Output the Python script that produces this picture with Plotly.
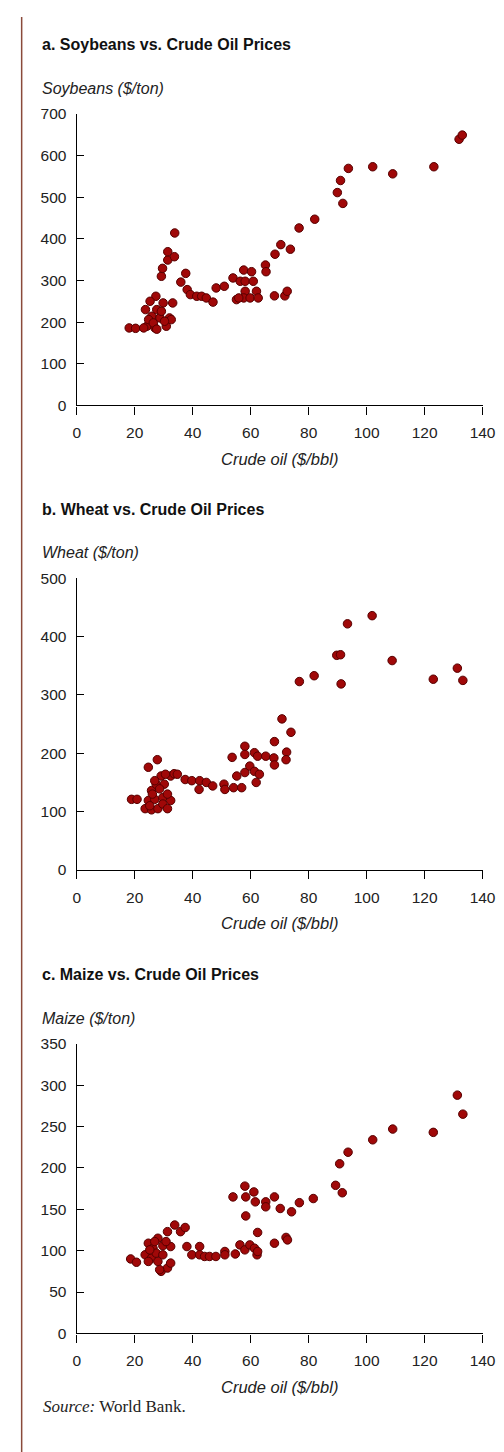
import plotly.graph_objects as go

# ---------------- data ----------------
soy_oil = [18.1, 20.3, 27.3, 25.3, 23.7, 29.8, 33.1, 25.9, 28.7, 32.0, 24.2, 27.0, 30.9, 32.6, 27.6, 29.2,
           24.8, 26.4, 23.1, 30.3, 27.6,
           29.2, 29.6, 31.4, 31.4, 33.7, 33.8,
           35.9, 37.6, 38.1, 39.2, 41.4, 43.1, 44.7, 47.0, 48.1, 50.9, 53.9,
           55.1, 57.6, 60.3, 56.4, 58.1, 60.9, 58.1, 62.0, 57.6, 59.8, 62.6, 55.9,
           65.1, 65.3, 68.2, 68.4, 70.4, 71.8, 72.6, 73.7, 76.7, 82.1,
           89.9, 91.0, 91.8, 93.7, 102.1, 109.0, 123.2, 131.9, 133.0]
soy_price = [186, 185, 262, 250, 230, 246, 246, 214, 210, 210, 190, 186, 190, 206, 230, 226,
             206, 198, 186, 202, 183,
             310, 329, 349, 369, 357, 414,
             296, 317, 278, 266, 262, 262, 258, 248, 282, 286, 306,
             254, 325, 321, 298, 298, 298, 274, 274, 258, 258, 258, 258,
             337, 321, 263, 363, 386, 263, 274, 375, 426, 447,
             511, 540, 485, 569, 573, 556, 573, 639, 649]

wheat_oil = [18.9, 20.8, 24.7, 27.8,
             23.6, 25.8, 28.0, 24.7, 26.9, 29.7, 32.4, 31.3, 25.8, 27.4, 30.2, 32.4, 29.1, 26.9,
             30.6, 33.6, 29.7, 31.3, 25.2, 28.6, 26.1,
             34.7, 37.4, 39.7, 42.4, 42.2, 44.7, 46.9, 50.8, 51.1, 54.1, 56.9, 53.6, 55.2, 58.0,
             59.7, 61.3, 63.0, 61.9, 58.0, 58.0, 61.3, 62.4, 65.2, 68.2, 68.0, 68.2, 70.8, 72.4,
             72.2, 73.9, 76.8, 81.9,
             89.7, 91.0, 91.2, 93.4, 101.9, 108.8, 123.0, 131.3, 133.2]
wheat_price = [121, 121, 176, 189,
               105, 103, 105, 119, 121, 124, 119, 130, 136, 147, 147, 161, 161, 153,
               164, 165, 113, 105, 110, 139, 130,
               164, 155, 153, 153, 138, 150, 144, 147, 138, 141, 141, 193, 161, 167,
               178, 169, 164, 150, 212, 198, 201, 195, 195, 220, 192, 180, 259, 202,
               189, 236, 323, 333,
               368, 369, 319, 422, 436, 359, 327, 346, 325]

maize_oil = [18.6, 20.6,
             24.7, 28.0, 31.3, 33.8, 35.8, 37.4, 29.7, 26.3, 23.6, 25.8, 28.0, 29.1, 31.3, 32.4,
             32.4, 27.4, 29.7, 25.2, 26.9, 30.8, 28.6, 24.7,
             38.0, 42.4, 39.7, 42.4, 44.1, 45.8, 48.0, 51.1, 51.1, 54.7, 56.3, 58.0, 59.7, 61.3,
             62.2, 62.4, 62.4, 58.3, 53.9, 58.0, 58.3, 61.1, 61.6, 65.2, 65.2, 68.2, 70.2, 74.1,
             76.8, 68.2, 72.2, 72.7, 81.6,
             89.3, 91.6, 90.7, 93.6, 102.1, 109.0, 123.0, 131.3, 133.2]
maize_price = [90, 86,
               109, 115, 123, 131, 123, 128, 106, 103, 95, 91, 87, 75, 79, 85,
               105, 97, 95, 101, 111, 111, 77, 87,
               105, 105, 95, 95, 93, 93, 93, 99, 95, 96, 107, 101, 107, 103,
               95, 99, 122, 142, 165, 178, 165, 171, 159, 159, 153, 165, 151, 147,
               158, 109, 116, 113, 163,
               179, 170, 205, 219, 234, 247, 243, 288, 265]

panel_titles = ["a. Soybeans vs. Crude Oil Prices",
                "b. Wheat vs. Crude Oil Prices",
                "c. Maize vs. Crude Oil Prices"]
y_titles = ["Soybeans ($/ton)", "Wheat ($/ton)", "Maize ($/ton)"]
x_title = "Crude oil ($/bbl)"
x_ticks = [0, 20, 40, 60, 80, 100, 120, 140]
y_ranges = [[0, 700], [0, 500], [0, 350]]
y_dticks = [100, 100, 50]
source_text = "<i>Source:</i> World Bank."

# ---------------- layout geometry (pixels) ----------------
W, H = 504, 1452
X0, X1 = 67, 487
panels_px = [(98, 393), (568, 863), (1039, 1332)]  # (top, bottom) of each plot area


def py(p):
    return 1 - p / H


SANS = "Liberation Sans, Arial, Helvetica, sans-serif"
SERIF = "Liberation Serif, Times New Roman, serif"

fig = go.Figure()
series = [(soy_oil, soy_price), (wheat_oil, wheat_price), (maize_oil, maize_price)]
layout = dict(
    width=W, height=H,
    margin=dict(l=0, r=0, t=0, b=0),
    paper_bgcolor="white", plot_bgcolor="white",
    showlegend=False,
    font=dict(family=SANS, color="#222222"),
)
annotations = []
for i, ((xs, ys), (top, bot)) in enumerate(zip(series, panels_px)):
    n = "" if i == 0 else str(i + 1)
    fig.add_trace(go.Scatter(
        x=xs, y=ys, mode="markers",
        xaxis="x" + n, yaxis="y" + n,
        marker=dict(size=8.5, color="#a00808", line=dict(color="#560000", width=1)),
        hoverinfo="skip",
    ))
    layout["xaxis" + n] = dict(
        domain=[X0 / W, X1 / W], range=[0, 140], tickvals=x_ticks,
        showline=True, linecolor="black", linewidth=1.3,
        ticks="outside", ticklen=8, tickwidth=1.3, tickcolor="black",
        showgrid=False, zeroline=False, anchor="y" + n,
        tickfont=dict(size=15.5, color="#222222", family=SANS),
        ticklabelstandoff=5,
        fixedrange=True,
    )
    layout["yaxis" + n] = dict(
        domain=[py(bot), py(top)], range=y_ranges[i], dtick=y_dticks[i], tick0=0,
        showline=True, linecolor="black", linewidth=1.3,
        ticks="inside", ticklen=7, tickwidth=1.3, tickcolor="black",
        showgrid=False, zeroline=False, anchor="x" + n,
        tickfont=dict(size=15.5, color="#222222", family=SANS),
        ticklabelstandoff=6,
        fixedrange=True,
    )
    annotations.append(dict(
        text="<b>" + panel_titles[i] + "</b>", x=29 / W, y=py(top - 70),
        xref="paper", yref="paper", xanchor="left", yanchor="middle",
        showarrow=False, font=dict(size=16, color="#111111", family=SANS),
    ))
    annotations.append(dict(
        text="<i>" + y_titles[i] + "</i>", x=29 / W, y=py(top - 26),
        xref="paper", yref="paper", xanchor="left", yanchor="middle",
        showarrow=False, font=dict(size=16, color="#222222", family=SANS),
    ))
    annotations.append(dict(
        text="<i>" + x_title + "</i>", x=(X0 + X1) / 2 / W, y=py(bot + 54),
        xref="paper", yref="paper", xanchor="center", yanchor="middle",
        showarrow=False, font=dict(size=16.5, color="#222222", family=SANS),
    ))

annotations.append(dict(
    text=source_text, x=30 / W, y=py(1406),
    xref="paper", yref="paper", xanchor="left", yanchor="middle",
    showarrow=False, font=dict(size=17, color="#222222", family=SERIF),
))
layout["annotations"] = annotations
layout["shapes"] = [dict(
    type="line", xref="paper", yref="paper",
    x0=10 / W, x1=10 / W, y0=0, y1=1,
    line=dict(color="#8a4a3a", width=1.5),
)]
fig.update_layout(**layout)
fig.write_html("out.html")
